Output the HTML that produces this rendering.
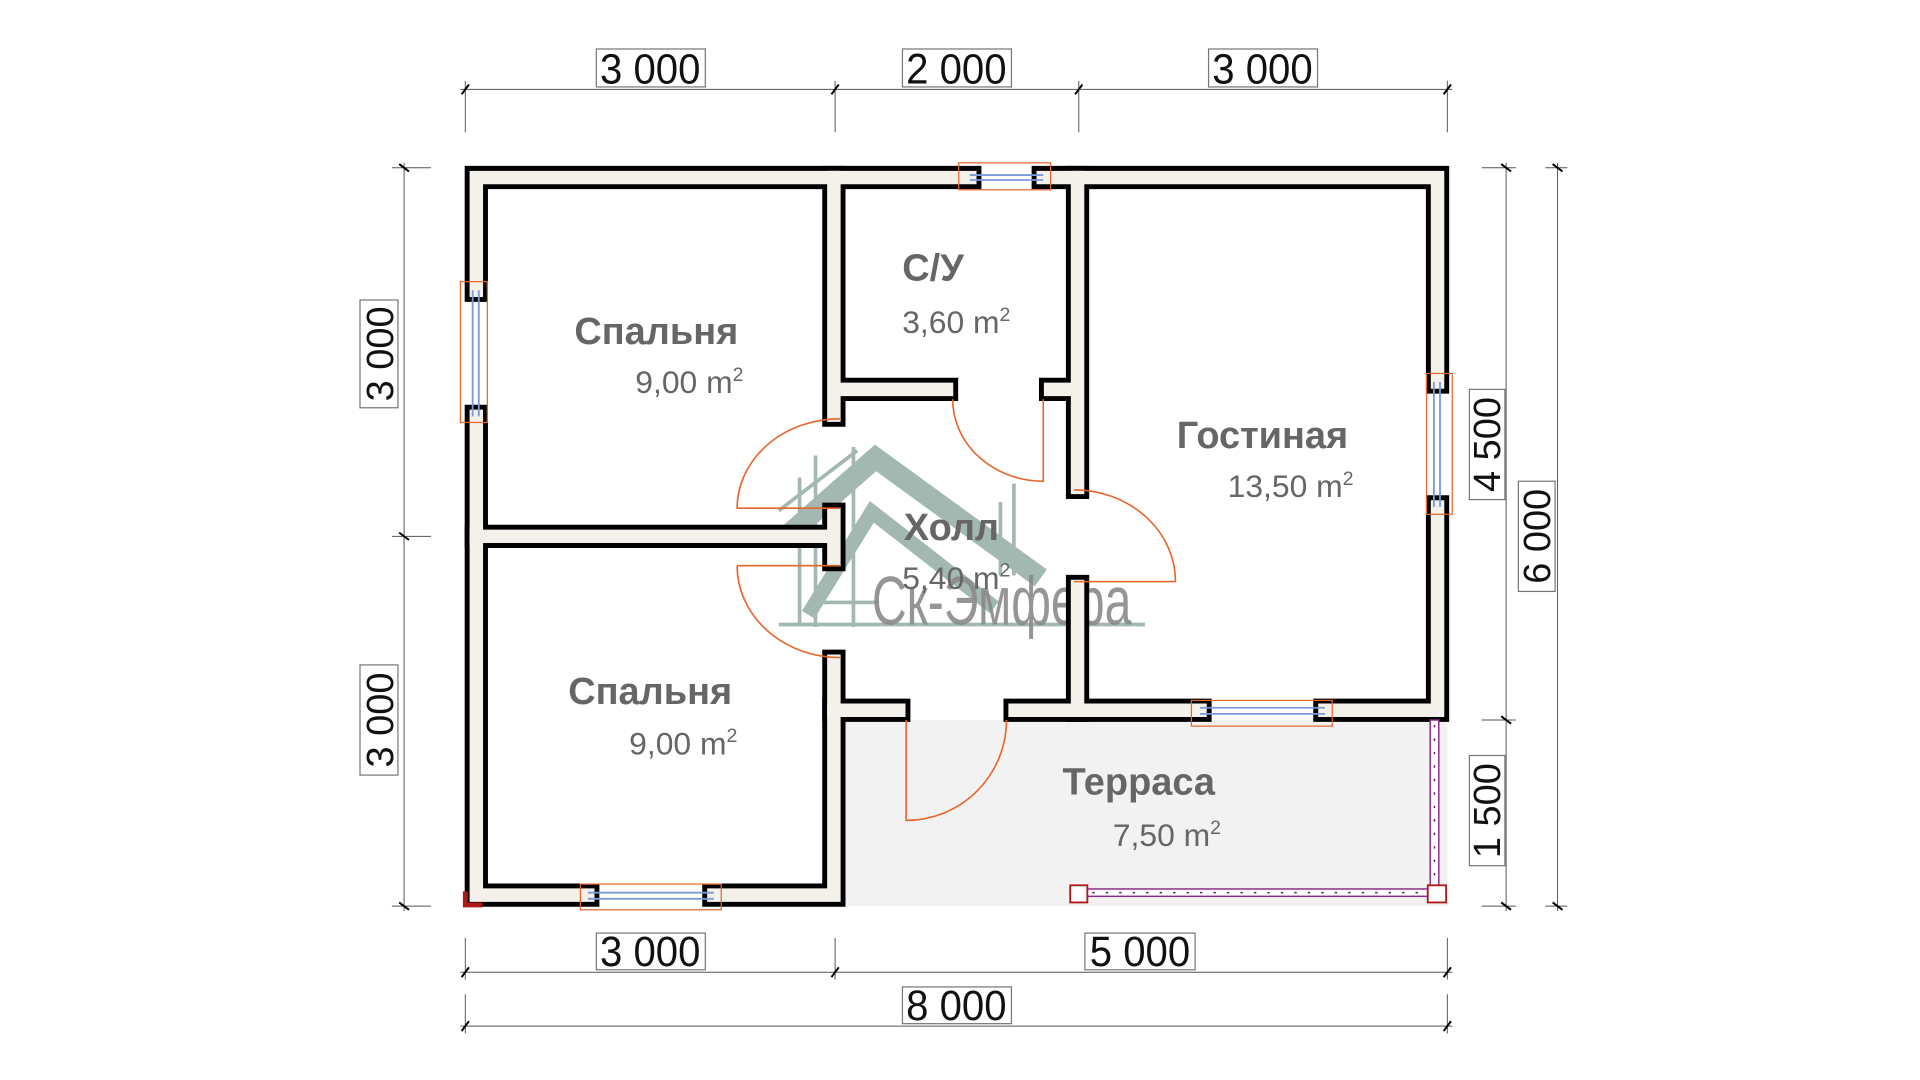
<!DOCTYPE html>
<html><head><meta charset="utf-8"><style>
html,body{margin:0;padding:0;background:#fff;}
svg{display:block;}
.rn{font-family:"Liberation Sans",sans-serif;font-weight:bold;fill:#666;font-size:31px;text-anchor:middle;}
.ar{font-family:"Liberation Sans",sans-serif;fill:#666;font-size:26px;text-anchor:middle;}
.dm{font-family:"Liberation Sans",sans-serif;fill:#111;font-size:31px;text-anchor:middle;}
.dn{font-family:"Liberation Sans",sans-serif;fill:#111;font-size:35px;text-anchor:middle;}
</style></head><body>
<svg width="1920" height="1080" viewBox="0 0 1568 882" xmlns="http://www.w3.org/2000/svg">
<rect x="688" y="588" width="494" height="152" fill="#f2f2f2"/>
<g stroke="#9fb5ad" fill="none" opacity="0.95">
<polyline points="640,440 715,374 850,472" stroke-width="17"/>
<polyline points="660,502 712,418 812,496" stroke-width="12"/>
<line x1="636" y1="417" x2="700" y2="368" stroke-width="3"/>
<line x1="636" y1="434" x2="700" y2="386" stroke-width="3"/>
<line x1="653" y1="390" x2="653" y2="510" stroke-width="3"/>
<line x1="666" y1="372" x2="666" y2="512" stroke-width="3"/>
<line x1="697" y1="365" x2="697" y2="512" stroke-width="3"/>
<line x1="828" y1="395" x2="828" y2="470" stroke-width="3"/>
<line x1="817" y1="410" x2="817" y2="470" stroke-width="3"/>
<line x1="636" y1="510" x2="935" y2="510" stroke-width="3"/>
<line x1="666" y1="492" x2="718" y2="492" stroke-width="3"/>
</g>
<text x="818" y="510" font-family="'Liberation Sans',sans-serif" font-size="56" fill="#8a8a8a" opacity="0.9" text-anchor="middle" textLength="212" lengthAdjust="spacingAndGlyphs">Ск-Эмфера</text>
<g fill="none" stroke-linecap="square" stroke-linejoin="miter">
<g stroke="#000" stroke-width="19">
<path d="M389,237 V145 H792 M852,145 H1174 V312 M1174,414 V580 H1082 M980,580 H829"/>
<path d="M389,340 V731 H480 M583,731 H681 V540"/>
<path d="M681,339 V145 M681,318 H773"/>
<path d="M389,438 H681 M681,420 V457"/>
<path d="M880,145 V398 M858,318 H880"/>
<path d="M880,479 V580"/>
<path d="M681,580 H734"/>
</g>
<g stroke="#f3f1ea" stroke-width="11">
<path d="M389,237 V145 H792 M852,145 H1174 V312 M1174,414 V580 H1082 M980,580 H829"/>
<path d="M389,340 V731 H480 M583,731 H681 V540"/>
<path d="M681,339 V145 M681,318 H773"/>
<path d="M389,438 H681 M681,420 V457"/>
<path d="M880,145 V398 M858,318 H880"/>
<path d="M880,479 V580"/>
<path d="M681,580 H734"/>
</g>
</g>
<g fill="none" stroke-width="1">
<rect x="783" y="133" width="75" height="22" stroke="#e8642a"/>
<line x1="792" y1="143" x2="852" y2="143" stroke="#7a9ad8" stroke-width="1.5"/>
<line x1="792" y1="147" x2="852" y2="147" stroke="#7a9ad8" stroke-width="1.5"/>
<rect x="376" y="230" width="22" height="115" stroke="#e8642a"/>
<line x1="386" y1="237" x2="386" y2="340" stroke="#7a9ad8" stroke-width="1.5"/>
<line x1="391" y1="237" x2="391" y2="340" stroke="#7a9ad8" stroke-width="1.5"/>
<rect x="1165" y="305" width="21" height="115" stroke="#e8642a"/>
<line x1="1171" y1="312" x2="1171" y2="414" stroke="#7a9ad8" stroke-width="1.5"/>
<line x1="1176" y1="312" x2="1176" y2="414" stroke="#7a9ad8" stroke-width="1.5"/>
<rect x="474" y="722" width="115" height="21" stroke="#e8642a"/>
<line x1="480" y1="729" x2="583" y2="729" stroke="#7a9ad8" stroke-width="1.5"/>
<line x1="480" y1="734" x2="583" y2="734" stroke="#7a9ad8" stroke-width="1.5"/>
<rect x="973" y="572" width="115" height="21" stroke="#e8642a"/>
<line x1="980" y1="578" x2="1082" y2="578" stroke="#7a9ad8" stroke-width="1.5"/>
<line x1="980" y1="583" x2="1082" y2="583" stroke="#7a9ad8" stroke-width="1.5"/>
</g>
<g fill="none" stroke="#e8642a" stroke-width="1.3">
<path d="M686,342 A84,73 0 0 0 602,415 H686"/>
<path d="M602,462 H686 M602,462 A84,75 0 0 0 686,537"/>
<path d="M778,326 A74,67 0 0 0 852,393 V326"/>
<path d="M877,400 A83,75 0 0 1 960,475 H877"/>
<path d="M740,588 V670 A82,82 0 0 0 822,588"/>
</g>
<g>
<rect x="1168" y="588" width="7" height="140" fill="#fff" stroke="#8a2a8a" stroke-width="1.2"/>
<line x1="1171.5" y1="592" x2="1171.5" y2="724" stroke="#6a1a6a" stroke-width="1.2" stroke-dasharray="2 9"/>
<rect x="888" y="726" width="280" height="6" fill="#fff" stroke="#8a2a8a" stroke-width="1.2"/>
<line x1="892" y1="729" x2="1164" y2="729" stroke="#6a1a6a" stroke-width="1.2" stroke-dasharray="2 9"/>
<rect x="874" y="723" width="14" height="14" fill="#fff" stroke="#b01818" stroke-width="1.5"/>
<rect x="1166" y="723" width="15" height="14" fill="#fff" stroke="#b01818" stroke-width="1.5"/>
<path d="M378,728 V741 H394 V737 H382 V728Z" fill="#b01818"/>
</g>
<text class="rn" x="536" y="281">Спальня</text>
<text class="ar" x="563" y="321">9,00 m<tspan font-size="16" dy="-10">2</tspan></text>
<text class="rn" x="762" y="229">С/У</text>
<text class="ar" x="781" y="272">3,60 m<tspan font-size="16" dy="-10">2</tspan></text>
<text class="rn" x="1031" y="366">Гостиная</text>
<text class="ar" x="1054" y="406">13,50 m<tspan font-size="16" dy="-10">2</tspan></text>
<text class="rn" x="777" y="441">Холл</text>
<text class="ar" x="781" y="481">5,40 m<tspan font-size="16" dy="-10">2</tspan></text>
<text class="rn" x="531" y="575">Спальня</text>
<text class="ar" x="558" y="616">9,00 m<tspan font-size="16" dy="-10">2</tspan></text>
<text class="rn" x="930" y="649">Терраса</text>
<text class="ar" x="953" y="691">7,50 m<tspan font-size="16" dy="-10">2</tspan></text>
<g stroke="#555" stroke-width="0.8" fill="none">
<line x1="376" y1="73" x2="1186" y2="73"/>
<line x1="380" y1="66" x2="380" y2="108"/><line x1="682" y1="66" x2="682" y2="108"/>
<line x1="881" y1="66" x2="881" y2="108"/><line x1="1182" y1="66" x2="1182" y2="108"/>
<line x1="376" y1="794" x2="1186" y2="794"/>
<line x1="380" y1="766" x2="380" y2="800"/><line x1="682" y1="766" x2="682" y2="800"/><line x1="1182" y1="766" x2="1182" y2="800"/>
<line x1="376" y1="838" x2="1186" y2="838"/>
<line x1="380" y1="812" x2="380" y2="844"/><line x1="1182" y1="812" x2="1182" y2="844"/>
<line x1="330" y1="133" x2="330" y2="744"/>
<line x1="320" y1="137" x2="352" y2="137"/><line x1="320" y1="438" x2="352" y2="438"/><line x1="320" y1="740" x2="352" y2="740"/>
<line x1="1230" y1="133" x2="1230" y2="744"/>
<line x1="1210" y1="137" x2="1238" y2="137"/><line x1="1210" y1="588" x2="1238" y2="588"/><line x1="1210" y1="740" x2="1238" y2="740"/>
<line x1="1272" y1="133" x2="1272" y2="744"/>
<line x1="1262" y1="137" x2="1280" y2="137"/><line x1="1262" y1="740" x2="1280" y2="740"/>
</g>
<g stroke="#000" stroke-width="1.6">
<path d="M377,77 l6,-8 M679,77 l6,-8 M878,77 l6,-8 M1179,77 l6,-8"/>
<path d="M377,798 l6,-8 M679,798 l6,-8 M1179,798 l6,-8 M377,842 l6,-8 M1179,842 l6,-8"/>
<path d="M326,134 l8,6 M326,435 l8,6 M326,737 l8,6"/>
<path d="M1226,134 l8,6 M1226,585 l8,6 M1226,737 l8,6 M1268,134 l8,6 M1268,737 l8,6"/>
</g>
<g fill="#fff" stroke="#777" stroke-width="1">
<rect x="487" y="40" width="89" height="31"/><rect x="737" y="40" width="89" height="31"/><rect x="987" y="40" width="89" height="31"/>
<rect x="487" y="762" width="89" height="30"/><rect x="886" y="762" width="90" height="30"/><rect x="737" y="806" width="89" height="30"/>
<rect x="294" y="245" width="31" height="88"/><rect x="294" y="543" width="31" height="90"/>
<rect x="1200" y="318" width="29" height="90"/><rect x="1200" y="617" width="29" height="90"/><rect x="1240" y="393" width="30" height="90"/>
</g>
<text class="dn" x="531" y="68" textLength="82" lengthAdjust="spacingAndGlyphs">3 000</text>
<text class="dn" x="781" y="68" textLength="82" lengthAdjust="spacingAndGlyphs">2 000</text>
<text class="dn" x="1031" y="68" textLength="82" lengthAdjust="spacingAndGlyphs">3 000</text>
<text class="dn" x="531" y="789" textLength="82" lengthAdjust="spacingAndGlyphs">3 000</text>
<text class="dn" x="931" y="789" textLength="82" lengthAdjust="spacingAndGlyphs">5 000</text>
<text class="dn" x="781" y="833" textLength="82" lengthAdjust="spacingAndGlyphs">8 000</text>
<text class="dm" transform="translate(321,289) rotate(-90)">3 000</text>
<text class="dm" transform="translate(321,588) rotate(-90)">3 000</text>
<text class="dm" transform="translate(1225,363) rotate(-90)">4 500</text>
<text class="dm" transform="translate(1225,662) rotate(-90)">1 500</text>
<text class="dm" transform="translate(1266,438) rotate(-90)">6 000</text>
</svg>
</body></html>
